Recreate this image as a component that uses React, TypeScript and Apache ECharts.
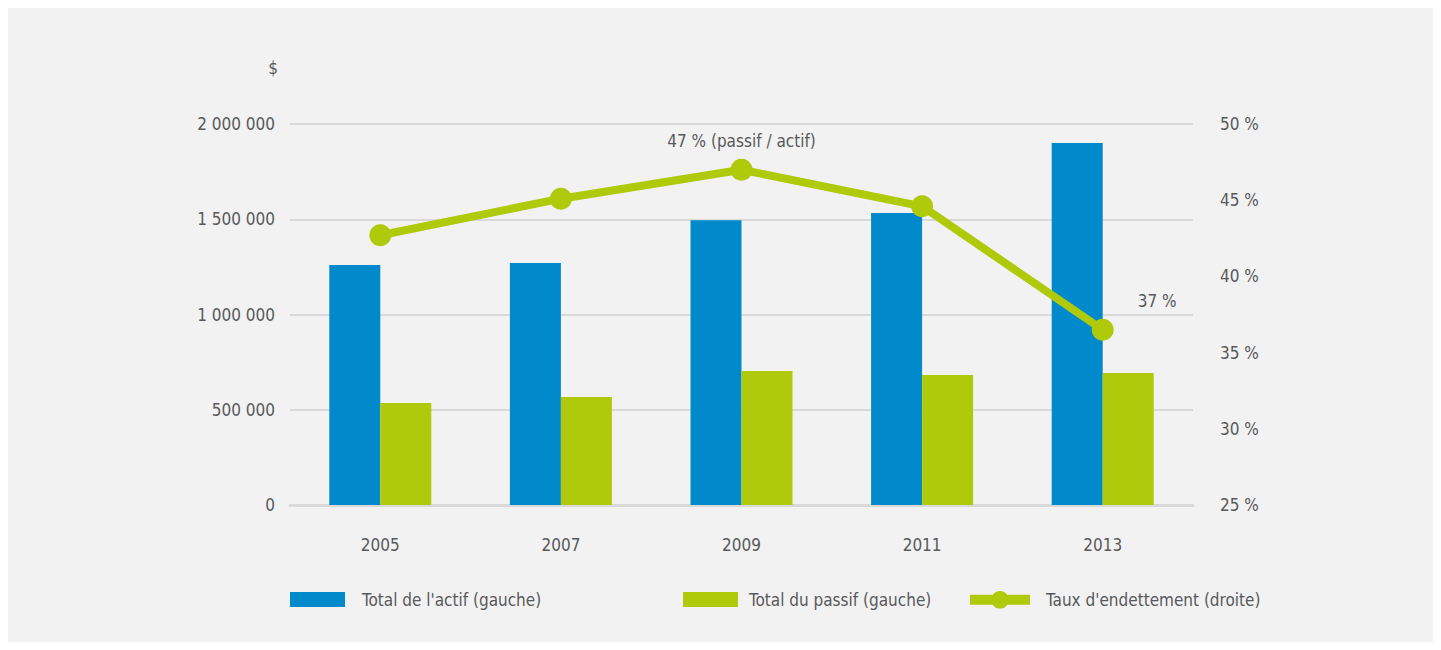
import React, { useEffect, useRef } from "react";
import * as echarts from "echarts";

const years = ["2005", "2007", "2009", "2011", "2013"];
const totalActif = [1260000, 1270000, 1495000, 1533000, 1900000];
const totalPassif = [535000, 567000, 703000, 682000, 693000];
const tauxEndettement = [42.7, 45.1, 47.0, 44.6, 36.5];
const seriesNames = ["Total de l'actif (gauche)", "Total du passif (gauche)", "Taux d'endettement (droite)"];
const pointLabels: Record<number, string> = { 2: "47 % (passif / actif)", 4: "37 %" };

const FONT = "'DejaVu Sans Condensed', 'DejaVu Sans', sans-serif";
const TEXT = "#58595b";
const BLUE = "#0089cb";
const GREEN = "#afca0b";
const FS = 17;

function fmtSpace(v: number) {
  return String(v).replace(/\B(?=(\d{3})+(?!\d))/g, " ");
}

const ts = (size = FS) => ({ color: TEXT, fontFamily: FONT, fontSize: size });

export default function App() {
  const ref = useRef<HTMLDivElement>(null);
  useEffect(() => {
    if (!ref.current) return;
    const chart = echarts.init(ref.current, null, { renderer: "svg" });
    const lineData = tauxEndettement.map((v, i) => {
      const lbl = pointLabels[i];
      if (!lbl) return v;
      return {
        value: v,
        label: {
          show: true,
          formatter: lbl,
          position: i === 4 ? [46, -26] : "top",
          distance: 9,
          ...ts(),
        },
      };
    });
    chart.setOption({
      animation: false,
      backgroundColor: "#f2f2f2",
      textStyle: { fontFamily: FONT, color: TEXT },
      grid: { left: 282, right: 240, top: 116, bottom: 137 },
      legend: [
        {
          data: [seriesNames[0]],
          left: 277,
          top: 578,
          itemWidth: 55,
          itemHeight: 15,
          icon: "rect",
          textStyle: { ...ts(), padding: [0, 0, 0, 12] },
        },
        {
          data: [seriesNames[1]],
          left: 670,
          top: 578,
          itemWidth: 55,
          itemHeight: 15,
          icon: "rect",
          textStyle: { ...ts(), padding: [0, 0, 0, 6] },
        },
        {
          data: [seriesNames[2]],
          left: 952,
          top: 578,
          itemWidth: 60,
          itemHeight: 22,
          lineStyle: { width: 10 },
          textStyle: { ...ts(), padding: [0, 0, 0, 11] },
        },
      ],
      xAxis: {
        type: "category",
        data: years,
        axisTick: { show: false },
        axisLine: { show: true, lineStyle: { color: "#d9d9d9", width: 3 } },
        axisLabel: { ...ts(), margin: 31 },
      },
      yAxis: [
        {
          type: "value",
          min: 0,
          max: 2000000,
          interval: 500000,
          name: "$",
          nameLocation: "end",
          nameGap: 48,
          nameTextStyle: { ...ts(), align: "right", padding: [0, 12, 0, 0] },
          axisLine: { show: false },
          axisTick: { show: false },
          splitLine: { lineStyle: { color: "#d9d9d9", width: 2 } },
          axisLabel: { ...ts(), margin: 15, formatter: (v: number) => fmtSpace(v) },
        },
        {
          type: "value",
          min: 25,
          max: 50,
          interval: 5,
          position: "right",
          axisLine: { show: false },
          axisTick: { show: false },
          splitLine: { show: false },
          axisLabel: { ...ts(), margin: 27, formatter: (v: number) => v + " %" },
        },
      ],
      series: [
        {
          name: seriesNames[0],
          type: "bar",
          data: totalActif,
          barWidth: 51,
          barGap: "0%",
          itemStyle: { color: BLUE },
        },
        {
          name: seriesNames[1],
          type: "bar",
          data: totalPassif,
          barWidth: 51,
          barGap: "0%",
          itemStyle: { color: GREEN },
        },
        {
          name: seriesNames[2],
          type: "line",
          yAxisIndex: 1,
          data: lineData,
          symbol: "circle",
          symbolSize: 22,
          lineStyle: { color: GREEN, width: 8 },
          itemStyle: { color: GREEN },
          z: 5,
        },
      ],
    });
    return () => chart.dispose();
  }, []);
  return <div ref={ref} style={{ width: 1425, height: 634 }} />;
}
